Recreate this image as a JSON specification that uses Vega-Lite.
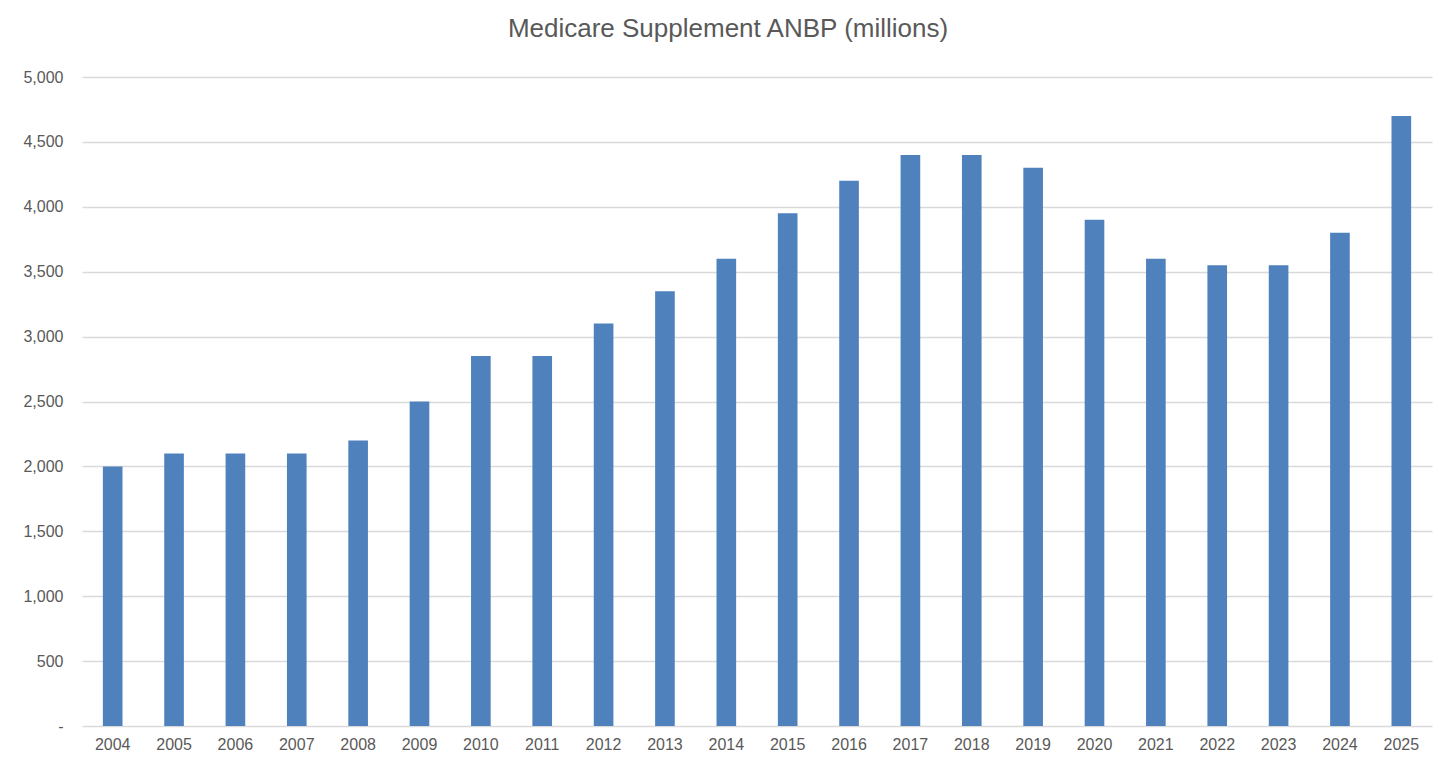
{
  "$schema": "https://vega.github.io/schema/vega-lite/v6.json",
  "width": 1350,
  "height": 649,
  "autosize": {"type": "none"},
  "padding": {"left": 82, "top": 77, "right": 24, "bottom": 50},
  "background": "white",
  "title": {
    "text": "Medicare Supplement  ANBP (millions)",
    "font": "Liberation Sans",
    "fontSize": 26,
    "fontWeight": "normal",
    "color": "#595959",
    "anchor": "middle",
    "dx": -29,
    "offset": 27
  },
  "data": {
    "values": [
      {"year": "2004", "anbp": 2000},
      {"year": "2005", "anbp": 2100},
      {"year": "2006", "anbp": 2100},
      {"year": "2007", "anbp": 2100},
      {"year": "2008", "anbp": 2200},
      {"year": "2009", "anbp": 2500},
      {"year": "2010", "anbp": 2850},
      {"year": "2011", "anbp": 2850},
      {"year": "2012", "anbp": 3100},
      {"year": "2013", "anbp": 3350},
      {"year": "2014", "anbp": 3600},
      {"year": "2015", "anbp": 3950},
      {"year": "2016", "anbp": 4200},
      {"year": "2017", "anbp": 4400},
      {"year": "2018", "anbp": 4400},
      {"year": "2019", "anbp": 4300},
      {"year": "2020", "anbp": 3900},
      {"year": "2021", "anbp": 3600},
      {"year": "2022", "anbp": 3550},
      {"year": "2023", "anbp": 3550},
      {"year": "2024", "anbp": 3800},
      {"year": "2025", "anbp": 4700}
    ]
  },
  "mark": {"type": "bar", "color": "#4F81BD"},
  "encoding": {
    "x": {
      "field": "year",
      "type": "ordinal",
      "title": null,
      "scale": {"paddingInner": 0.68, "paddingOuter": 0.34},
      "axis": {
        "labelAngle": 0,
        "domain": false,
        "ticks": false,
        "labelPadding": 10,
        "labelFontSize": 16,
        "labelFont": "Liberation Sans",
        "labelColor": "#595959"
      }
    },
    "y": {
      "field": "anbp",
      "type": "quantitative",
      "title": null,
      "scale": {"domain": [0, 5000], "nice": false},
      "axis": {
        "values": [0, 500, 1000, 1500, 2000, 2500, 3000, 3500, 4000, 4500, 5000],
        "labelExpr": "datum.value == 0 ? '-\u00a0\u00a0\u00a0' : format(datum.value, ',')",
        "domain": false,
        "ticks": false,
        "labelPadding": 19,
        "labelFontSize": 16,
        "labelFont": "Liberation Sans",
        "labelColor": "#595959",
        "gridColor": "#D9D9D9",
        "gridWidth": 1.3
      }
    }
  },
  "config": {"view": {"stroke": null}}
}
